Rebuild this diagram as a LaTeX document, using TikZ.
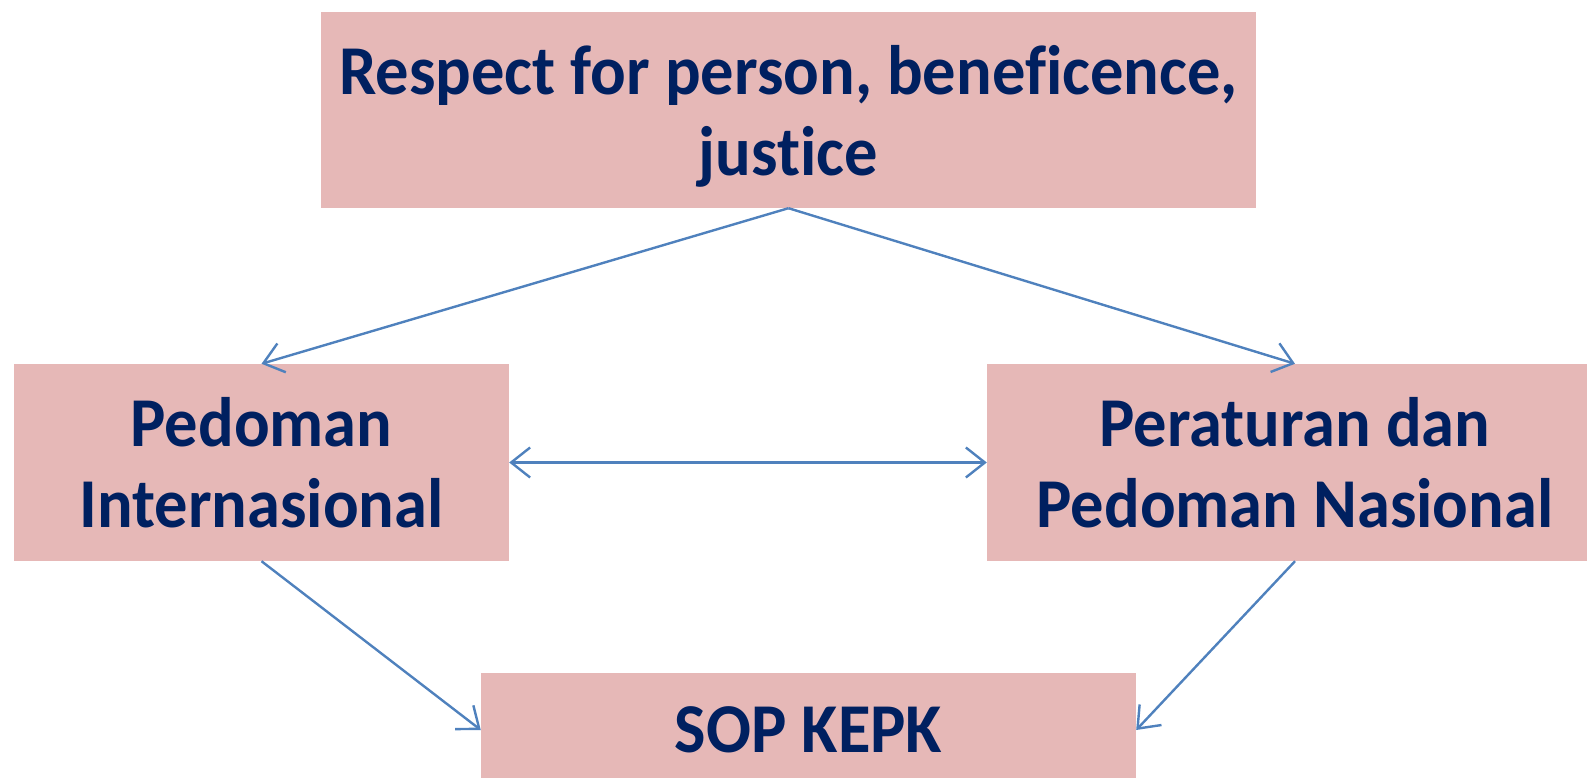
\documentclass[tikz,border=0pt]{standalone}
\usepackage{fontspec}
\setmainfont{Carlito}[FakeStretch=0.95,Ligatures=NoCommon]
\usetikzlibrary{arrows.meta}
\definecolor{boxpink}{HTML}{E6B8B7}
\definecolor{txtnavy}{HTML}{002060}
\definecolor{arrblue}{HTML}{4F81BD}
\begin{document}
\begin{tikzpicture}[x=1pt,y=1pt,
  kotak/.style={rectangle, fill=boxpink, inner sep=0pt, align=center, text=txtnavy,
    font=\fontsize{70}{81}\selectfont\bfseries},
  ujung/.tip={Straight Barb[length=19pt,width=30pt,line width=2.4pt]},
  panah/.style={draw=arrblue, line width=2.4pt, -ujung}]
\useasboundingbox (0,0) rectangle (1587,777);
\node[kotak, minimum width=935, minimum height=196, text depth=0pt] (box0) at (788.5,667){Respect for person, beneficence,\\justice};
\node[kotak, minimum width=495, minimum height=197] (box1) at (261.5,314.5){Pedoman\\Internasional};
\node[kotak, minimum width=616, minimum height=197] (box2) at (1295,314.5){Peraturan dan\\Pedoman Nasional};
\node[kotak, minimum width=655, minimum height=114] (box3) at (808.5,47){SOP KEPK};
\draw[panah](box0.south) -- (box1.north);
\draw[panah](box0.south) -- (box2.north);
\draw[panah, ujung-ujung](box1.east) -- (box2.west);
\draw[panah](box1.south) -- (box3.west);
\draw[panah](box2.south) -- (box3.east);
\end{tikzpicture}
\end{document}
